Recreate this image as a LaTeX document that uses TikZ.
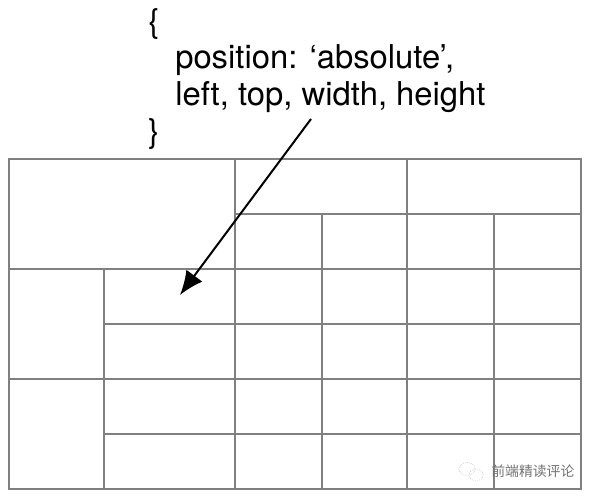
\documentclass[tikz,border=0pt]{standalone}
\usepackage{fontspec}
\setmainfont{TeX Gyre Heros}
\newfontfamily\cjk{Noto Sans CJK SC}
\usetikzlibrary{arrows.meta, positioning}
\tikzset{
    cell/.style={draw=gridgray, line width=1.6pt},
    code/.style={anchor=base west, inner sep=0pt, font=\fontsize{24.6pt}{28pt}\selectfont},
    mark logo/.style={draw=black!25, line width=0.5pt, densely dotted},
}
\definecolor{gridgray}{RGB}{128,128,128}

\begin{document}
\begin{tikzpicture}[x=0.75pt, y=-0.75pt]
\useasboundingbox (0,0) rectangle (592,498);

% Code block
\node[code] (open) at (148,33) {\{};
\node[code] (pos) at (175,69) {position: ‘absolute’,};
\node[code] (box) at (175,106) {left, top, width, height};
\node[code] (close) at (148,143) {\}};

% Large cells (x1/y1/x2/y2)
\foreach \xa/\ya/\xb/\yb in {9/159/235/269, 235/159/407/214, 407/159/581/214,
    9/269/104/379, 9/379/104/489} {
    \draw[cell] (\xa,\ya) rectangle (\xb,\yb);
}
% Wide cells beside the left column
\foreach \ya/\yb in {269/324, 324/379, 379/434, 434/489} {
    \draw[cell] (104,\ya) rectangle (235,\yb);
}
% Small cells
\foreach \ya/\yb in {214/269, 269/324, 324/379, 379/434, 434/489} {
    \foreach \xa/\xb in {235/322, 322/407, 407/494, 494/581} {
        \draw[cell] (\xa,\ya) rectangle (\xb,\yb);
    }
}

% Arrow into the cell
\coordinate (start) at (311,119);
\coordinate (target) at (180,295);
\draw[-{Latex[length=18pt, width=15pt]}, line width=1.5pt] (start) -- (target);

% Watermark
\draw[mark logo] (467,469) ellipse (8 and 6.5);
\draw[mark logo] (476,475) ellipse (7 and 6);
\node[anchor=west, inner sep=0pt, text=black!55, font=\cjk\fontsize{10.4pt}{12pt}\selectfont] (mark) at (491,471) {前端精读评论};
\end{tikzpicture}
\end{document}
